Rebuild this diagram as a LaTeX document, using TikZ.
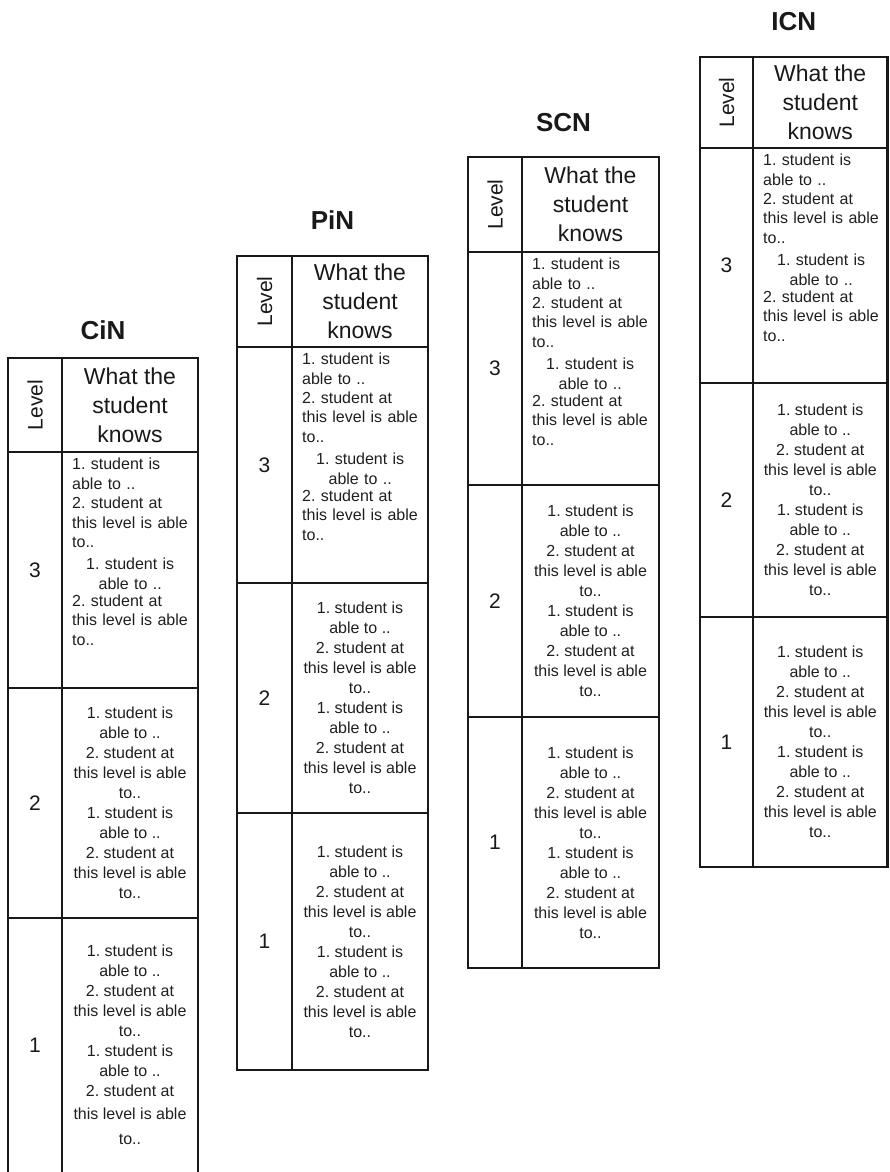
\documentclass[tikz,border=0pt]{standalone}
\usepackage{fontspec}
\setmainfont{Liberation Sans}
\frenchspacing
\tikzset{
  tblline/.style={line width=2.5pt, draw=black!90},
  tbltitle/.style={font=\fontsize{26}{30}\selectfont\bfseries, inner sep=0pt, text=black!90},
  tblhead/.style={font=\fontsize{23}{29}\selectfont, align=center, inner sep=0pt, text=black!90},
  lvlhead/.style={font=\fontsize{21}{25}\selectfont, rotate=90, inner sep=0pt, text=black!90},
  lvlnum/.style={font=\fontsize{21}{25}\selectfont, inner sep=0pt, text=black!90},
  bodyc/.style={font=\fontsize{16}{20}\selectfont\frenchspacing, align=center, inner sep=0pt, text=black!88},
  bodyl/.style={font=\fontsize{16}{19.4}\selectfont\frenchspacing, align=left, text width=116pt, inner sep=0pt, anchor=north west, text=black!88},
}
\newcommand\cln[1]{\makebox[116pt]{#1}}
\newcommand\rowfull{1. student is\\able to ..\\2. student at\\this level is able\\to..\\1. student is\\able to ..\\2. student at\\this level is able\\to..}
\newcommand\rowfullwide{1. student is\\able to ..\\2. student at\\this level is able\\to..\\1. student is\\able to ..\\2. student at\\[3pt]this level is able\\[5pt]to..}
\newcommand\rowmixed{1. student is\\able to ..\\2. student at\\this level is able\\to..\\[3pt]\cln{1. student is}\\\cln{able to ..}\\[-2pt]2. student at\\this level is able\\to..}
\begin{document}
\begin{tikzpicture}[x=1pt,y=-1pt]
\useasboundingbox (0,0) rectangle (889,1172);
\foreach \nm/\L/\D/\R/\T/\H/\A/\B/\E/\Z/\ty/\rt in {
  CiN/8/62/198/358/452/688/918/1172/1190/330/\rowfullwide,
  PiN/237/292/428/256/347/583/813/1070/1070/220/\rowfull,
  SCN/468/522/659/157/252/485/717/968/968/123/\rowfull,
  ICN/700/753/887.5/57/148/383/617/867/867/22/\rowfull}{
  \draw[tblline] (\L,\T) rectangle (\R,\Z);
  \draw[tblline] (\D,\T) -- (\D,\Z);
  \draw[tblline] (\L,\H) -- (\R,\H);
  \draw[tblline] (\L,\A) -- (\R,\A);
  \draw[tblline] (\L,\B) -- (\R,\B);
  \node[tbltitle] (\nm-title) at ({(\L+\R)/2},\ty) {\nm};
  \node[lvlhead] (\nm-level) at ({(\L+\D)/2},{(\T+\H)/2}) {Level};
  \node[tblhead] (\nm-head) at ({(\D+\R)/2},{(\T+\H)/2}) {What the\\student\\knows};
  \node[lvlnum] (\nm-n3) at ({(\L+\D)/2},{(\H+\A)/2}) {3};
  \node[lvlnum] (\nm-n2) at ({(\L+\D)/2},{(\A+\B)/2}) {2};
  \node[lvlnum] (\nm-n1) at ({(\L+\D)/2},{(\B+\E)/2}) {1};
  \node[bodyl] (\nm-t3) at ({\D+10},{\H+6}) {\rowmixed};
  \node[bodyc] (\nm-t2) at ({(\D+\R)/2},{(\A+\B)/2}) {\rowfull};
  \node[bodyc] (\nm-t1) at ({(\D+\R)/2},{(\B+\E)/2}) {\rt};
}
\end{tikzpicture}
\end{document}
